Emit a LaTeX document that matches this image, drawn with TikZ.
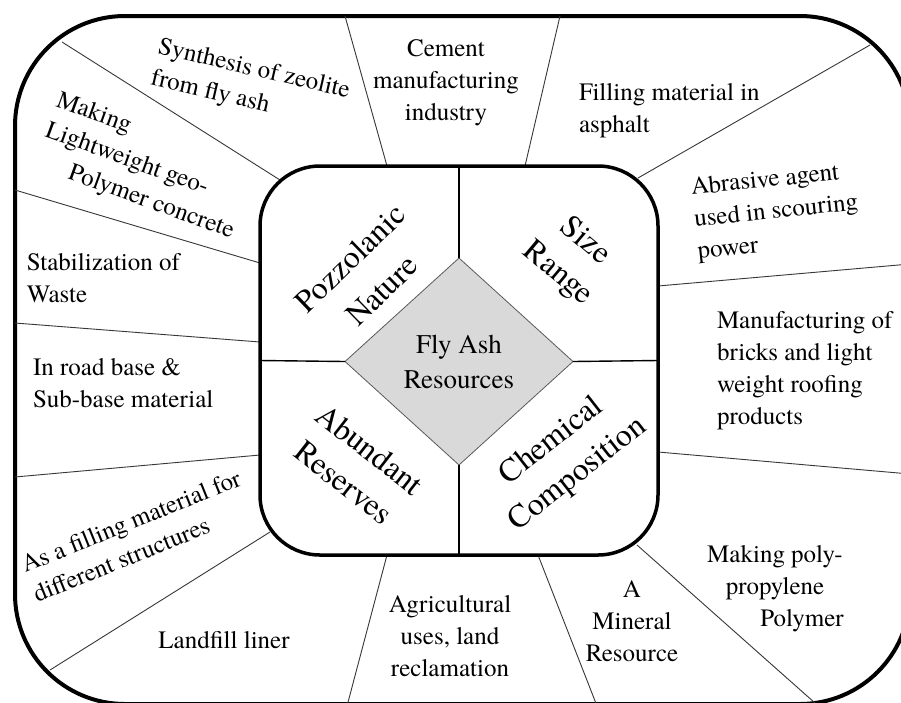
\documentclass[tikz,border=0pt]{standalone}
\usepackage{fontspec}
\setmainfont{TeX Gyre Termes}
\usetikzlibrary{shapes.geometric}
\definecolor{hubfill}{RGB}{217,217,217}
\definecolor{spokeline}{RGB}{55,55,55}
\definecolor{hubline}{RGB}{90,90,90}
\begin{document}
\begin{tikzpicture}[x=1pt,y=-1pt,
  every node/.style={inner sep=0pt, outer sep=0pt},
  frame/.style={draw, line width=4pt, rounded corners=110pt},
  panel/.style={draw, fill=white, line width=3.5pt, rounded corners=60pt},
  hub/.style={diamond, draw=hubline, line width=0.8pt, fill=hubfill, align=center,
    font=\fontsize{27pt}{35pt}\selectfont},
  divider/.style={line width=1.4pt},
  spoke/.style={draw=spokeline, line width=0.9pt},
  use/.style={font=\fontsize{25pt}{32pt}\selectfont},
  trait/.style={align=center, font=\fontsize{32pt}{42pt}\selectfont},
]
\clip (0,0) rectangle (901,702);
\fill[white] (0,0) rectangle (901,702);

% outer frame (runs past the right and bottom edges)
\node[frame, minimum width=895pt, minimum height=688pt] (frame) at (462.5,360) {};

% spoke end points on the outer frame
\coordinate (oA) at (62,42);
\coordinate (oB) at (345,16);
\coordinate (oC) at (15,190);
\coordinate (oD) at (15,323);
\coordinate (oE) at (560,16);
\coordinate (oF) at (870,45);
\coordinate (oG) at (910,264);
\coordinate (oH) at (15,477);
\coordinate (oI) at (50,670);
\coordinate (oJ) at (347,706);
\coordinate (oK) at (597,706);
\coordinate (oL) at (815,703);
\coordinate (oM) at (910,474);

% spoke end points on the inner panel
\coordinate (iA) at (280,180);
\coordinate (iB) at (387,166);
\coordinate (iC) at (260,263);
\coordinate (iD) at (260,342);
\coordinate (iE) at (525,166);
\coordinate (iF) at (638,178);
\coordinate (iG) at (658,286);
\coordinate (iH) at (260,455);
\coordinate (iI) at (270,532);
\coordinate (iJ) at (387,555);
\coordinate (iK) at (538,555);
\coordinate (iL) at (637,545);
\coordinate (iM) at (658,452);

\foreach \s in {A,B,C,D,E,F,G,H,I,J,K,L,M}
  \draw[spoke] (i\s) -- (o\s);

% inner panel with the four properties
\node[panel, minimum width=398pt, minimum height=389pt] (panel) at (459,360.5) {};
\node[hub, minimum width=228pt, minimum height=207pt] (hub) at (459,361.5) {Fly Ash\\Resources};
\draw[divider] (panel.north) -- (hub.north);
\draw[divider] (hub.south) -- (panel.south);
\draw[divider] (panel.west) -- (hub.west);
\draw[divider] (hub.east) -- (panel.east);

\node[trait, rotate=44, font=\fontsize{32pt}{45pt}\selectfont] (pozz) at (366,274) {Pozzolanic\\Nature};
\node[trait, rotate=-40] (size) at (571,258) {Size\\Range};
\node[trait, rotate=-38] (abund) at (357,466) {Abundant\\Reserves};
\node[trait, rotate=38] (chem) at (565,458) {Chemical\\Composition};

% applications around the panel
\node[use, align=left, rotate=-13, anchor=north west] (zeolite) at (161,37)
  {Synthesis of zeolite\\from fly ash};
\node[use, align=center, anchor=north] (cement) at (446,40)
  {Cement\\manufacturing\\industry};
\node[use, align=left, anchor=north west] (asphalt) at (579,83)
  {Filling material in\\asphalt};
\node[use, align=left, rotate=6, anchor=north west] (abrasive) at (690,178)
  {Abrasive agent\\used in scouring\\power};
\node[use, align=left, anchor=north west] (bricks) at (717,311)
  {Manufacturing of\\bricks and light\\weight roofing\\products};
\node[use, align=center, anchor=north] (polymer) at (775,545)
  {Making poly-\\propylene\\\hspace*{54pt}Polymer};
\node[use, align=center, anchor=north] (mineral) at (632,581)
  {A\\Mineral\\Resource};
\node[use, align=center, anchor=north] (agri) at (450,595)
  {Agricultural\\uses, land\\reclamation};
\node[use, anchor=base] (landfill) at (224,648) {Landfill liner};
\node[use, align=left, rotate=22, anchor=north west] (filling) at (19,557)
  {As a filling material for\\different structures};
\node[use, align=left, anchor=north west] (road) at (33,358)
  {In road base \&\\Sub-base material};
\node[use, align=left, anchor=north west] (waste) at (27,253)
  {Stabilization of\\Waste};
\node[use, align=left, rotate=-20, anchor=north west] (geopoly) at (61,90)
  {Making\\Lightweight geo-\\\hspace*{36pt}Polymer concrete};
\end{tikzpicture}
\end{document}
